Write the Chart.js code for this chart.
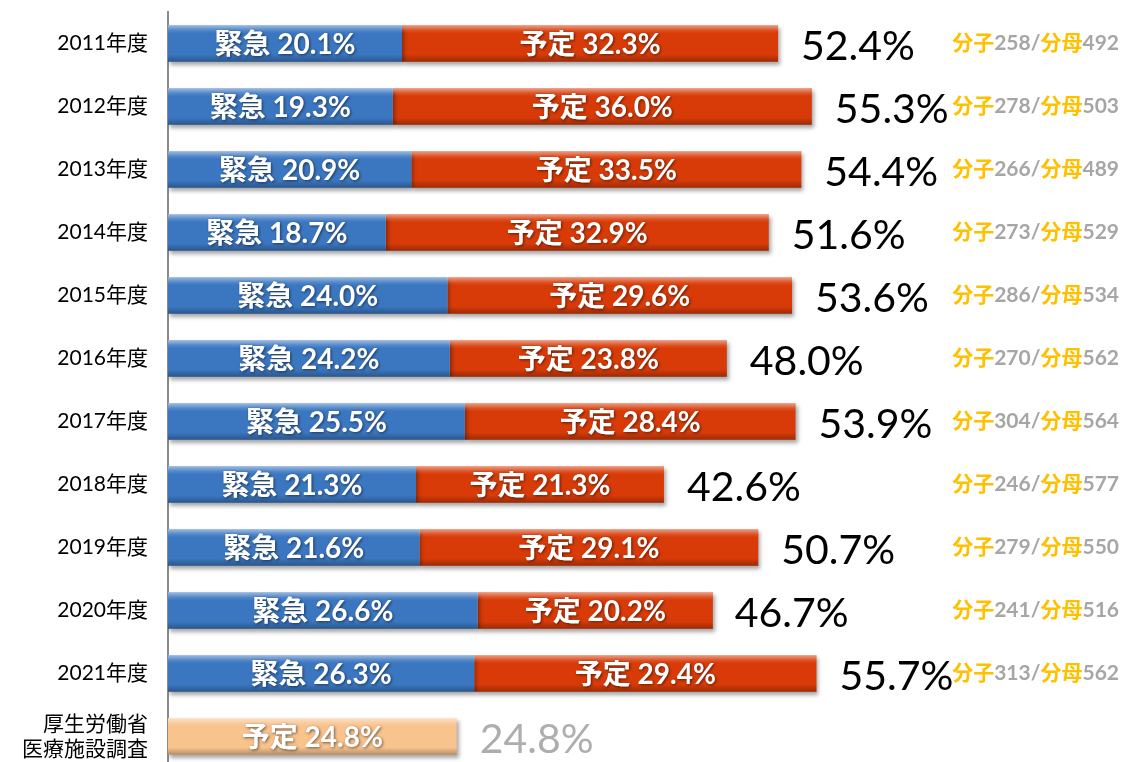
<!DOCTYPE html>
<html lang="ja">
<head>
<meta charset="utf-8">
<title>緊急・予定</title>
<script src="https://cdn.jsdelivr.net/npm/chart.js@4"></script>
<style>
  html, body { margin: 0; padding: 0; background: #fff; overflow: hidden; }
  #wrap { width: 1125px; height: 770px; }
</style>
</head>
<body>
<div id="wrap"><canvas id="chart" width="1125" height="770"></canvas></div>
<script>
// data
const categories = ['2011年度', '2012年度', '2013年度', '2014年度', '2015年度', '2016年度',
  '2017年度', '2018年度', '2019年度', '2020年度', '2021年度', ['厚生労働省', '医療施設調査']];
const emergency = [20.1, 19.3, 20.9, 18.7, 24.0, 24.2, 25.5, 21.3, 21.6, 26.6, 26.3, null];
const planned = [32.3, 36.0, 33.5, 32.9, 29.6, 23.8, 28.4, 21.3, 29.1, 20.2, 29.4, null];
const mhlwPlanned = [null, null, null, null, null, null, null, null, null, null, null, 24.8];
const totals = [52.4, 55.3, 54.4, 51.6, 53.6, 48.0, 53.9, 42.6, 50.7, 46.7, 55.7, 24.8];
const numerators = [258, 278, 266, 273, 286, 270, 304, 246, 279, 241, 313];
const denominators = [492, 503, 489, 529, 534, 562, 564, 577, 550, 516, 562];
const seriesNames = ['緊急', '予定', '予定'];

const FONT = 'Lato, "Noto Sans CJK JP", sans-serif';

// shadows, bevel shading and all the text drawn on top of the bars
const decor = {
  id: 'decor',
  beforeDatasetsDraw(chart) {
    const c = chart.ctx;
    c.save();
    c.shadowColor = 'rgba(0,0,0,0.35)';
    c.shadowBlur = 4;
    c.shadowOffsetX = 2;
    c.shadowOffsetY = 3;
  },
  afterDatasetsDraw(chart) {
    const c = chart.ctx;
    c.restore();
    const xs = chart.scales.x, ys = chart.scales.y;

    chart.data.datasets.forEach((ds, di) => {
      chart.getDatasetMeta(di).data.forEach((bar, i) => {
        const v = ds.data[i];
        if (v == null) return;
        const {x, y, base, height} = bar.getProps(['x', 'y', 'base', 'height'], true);
        const top = y - height / 2;
        const g = c.createLinearGradient(0, top, 0, top + height);
        g.addColorStop(0, 'rgba(255,255,255,0.5)');
        g.addColorStop(0.14, 'rgba(255,255,255,0.12)');
        g.addColorStop(0.22, 'rgba(255,255,255,0)');
        g.addColorStop(0.8, 'rgba(0,0,0,0)');
        g.addColorStop(1, 'rgba(0,0,0,0.28)');
        c.fillStyle = g;
        c.fillRect(base, top, x - base, height);

        c.save();
        c.font = 'bold 28px ' + FONT;
        c.fillStyle = '#fff';
        c.textAlign = 'center';
        c.textBaseline = 'middle';
        c.shadowColor = 'rgba(0,0,0,0.55)';
        c.shadowBlur = 3;
        c.shadowOffsetX = 1;
        c.shadowOffsetY = 1;
        c.fillText(seriesNames[di] + ' ' + v.toFixed(1) + '%', (x + base) / 2, y + 1);
        c.restore();
      });
    });

    totals.forEach((t, i) => {
      const yc = ys.getPixelForValue(i);
      c.save();
      c.font = '41px ' + FONT;
      c.fillStyle = i === totals.length - 1 ? '#aeaeae' : '#000';
      c.textAlign = 'left';
      c.textBaseline = 'middle';
      c.fillText(t.toFixed(1) + '%', xs.getPixelForValue(t) + 23, yc + 3);
      c.restore();
    });

    numerators.forEach((n, i) => {
      const yc = ys.getPixelForValue(i);
      const parts = [['分子', '#FFC000'], [String(n) + '/', '#A6A6A6'],
        ['分母', '#FFC000'], [String(denominators[i]), '#A6A6A6']];
      c.save();
      c.font = 'bold 21px ' + FONT;
      c.textAlign = 'left';
      c.textBaseline = 'middle';
      let w = 0;
      parts.forEach(p => { w += c.measureText(p[0]).width; });
      let px = 1119 - w;
      parts.forEach(p => {
        c.fillStyle = p[1];
        c.fillText(p[0], px, yc);
        px += c.measureText(p[0]).width;
      });
      c.restore();
    });
  }
};

const common = {barPercentage: 0.58, categoryPercentage: 1, borderWidth: 0};

new Chart(document.getElementById('chart').getContext('2d'), {
  type: 'bar',
  data: {
    labels: categories,
    datasets: [
      {label: '緊急', data: emergency, backgroundColor: '#3B77C1', ...common},
      {label: '予定', data: planned, backgroundColor: '#D83B08', ...common},
      {label: '予定（厚生労働省 医療施設調査）', data: mhlwPlanned, backgroundColor: '#F9C38E', ...common}
    ]
  },
  options: {
    indexAxis: 'y',
    responsive: false,
    animation: false,
    layout: {padding: {top: 12, bottom: 2, left: 0, right: 0}},
    scales: {
      x: {stacked: true, min: 0, max: 82.2, display: false},
      y: {
        stacked: true,
        grid: {display: false, drawTicks: false},
        border: {display: true, color: '#8a8a8a', width: 2},
        ticks: {color: '#000', font: {family: FONT, size: 21}, padding: 20},
        afterFit(s) { s.width = 168; s.paddingTop = 0; s.paddingBottom = 0; }
      }
    },
    plugins: {legend: {display: false}, tooltip: {enabled: false}}
  },
  plugins: [decor]
});
</script>
</body>
</html>
